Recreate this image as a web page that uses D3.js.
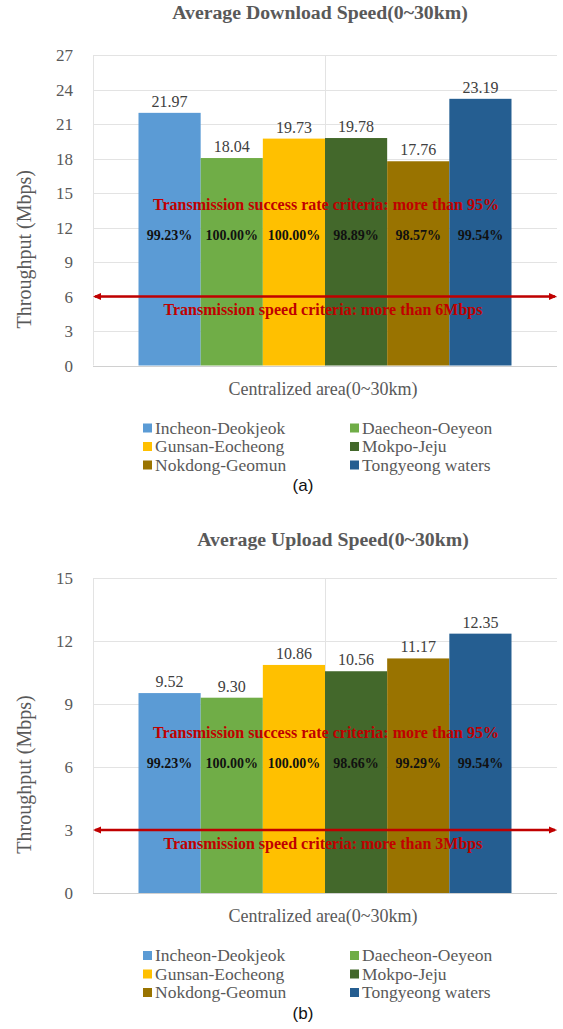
<!DOCTYPE html>
<html>
<head>
<meta charset="utf-8">
<script src="https://cdn.jsdelivr.net/npm/d3@7"></script>
<style>
  html, body { margin: 0; padding: 0; background: #fff; }
  svg { display: block; }
</style>
</head>
<body>
<svg id="fig" width="563" height="1029"></svg>
<script>
const SERIF = "'Liberation Serif', 'Times New Roman', Times, serif";
const SANS = "'Liberation Sans', Arial, Helvetica, sans-serif";

// Routes (series), shared by both panels
const routes = ["Incheon-Deokjeok", "Daecheon-Oeyeon", "Gunsan-Eocheong",
                "Mokpo-Jeju", "Nokdong-Geomun", "Tongyeong waters"];
const routeColors = ["#5B9BD5", "#70AD47", "#FFC000", "#43682B", "#997300", "#255E91"];
const category = "Centralized area(0~30km)";

// (a) download throughput, Mbps
const downloadValues = [21.97, 18.04, 19.73, 19.78, 17.76, 23.19];
const downloadSuccess = ["99.23%", "100.00%", "100.00%", "98.89%", "98.57%", "99.54%"];
const downloadTicks = [0, 3, 6, 9, 12, 15, 18, 21, 24, 27];
const downloadCriterion = 6;

// (b) upload throughput, Mbps
const uploadValues = [9.52, 9.30, 10.86, 10.56, 11.17, 12.35];
const uploadSuccess = ["99.23%", "100.00%", "100.00%", "98.66%", "99.29%", "99.54%"];
const uploadTicks = [0, 3, 6, 9, 12, 15];
const uploadCriterion = 3;

const svg = d3.select("#fig");

function drawPanel(opts) {
  const g = svg.append("g").attr("font-family", SERIF);
  const left = 93, right = 557;
  const top = opts.top, bottom = opts.bottom;

  const y = d3.scaleLinear()
    .domain([0, d3.max(opts.ticks)])
    .range([bottom, top]);

  const xCat = d3.scaleBand().domain([category]).range([left, right])
    .paddingInner(0).paddingOuter(0.122);
  const xSeries = d3.scaleBand().domain(routes)
    .range([xCat(category), xCat(category) + xCat.bandwidth()]).padding(0);

  // title
  g.append("text")
    .attr("x", opts.titleX).attr("y", top - opts.titleGap)
    .attr("text-anchor", "middle").attr("font-size", 19.8).attr("font-weight", "bold")
    .attr("fill", "#595959").text(opts.title);

  // horizontal gridlines
  g.append("g").selectAll("line").data(opts.ticks.filter(t => t > 0)).join("line")
    .attr("x1", left).attr("x2", right)
    .attr("y1", d => Math.round(y(d)) + 0.5).attr("y2", d => Math.round(y(d)) + 0.5)
    .attr("stroke", "#E3E3E3").attr("stroke-width", 1);

  // left border and category divider
  [left, xCat(category) + xCat.bandwidth() / 2].forEach(xv => {
    g.append("line").attr("x1", Math.round(xv) + 0.5).attr("x2", Math.round(xv) + 0.5)
      .attr("y1", top).attr("y2", bottom)
      .attr("stroke", "#E3E3E3").attr("stroke-width", 1);
  });

  // y axis tick labels
  const yAxis = d3.axisLeft(y).tickValues(opts.ticks).tickSize(0).tickPadding(0);
  const ax = g.append("g").attr("transform", `translate(${left - 20},0)`).call(yAxis)
    .attr("font-family", SERIF).attr("font-size", 17);
  ax.select(".domain").remove();
  ax.selectAll("text").attr("fill", "#595959").attr("dy", "0.34em");

  // bars
  g.append("g").selectAll("rect").data(opts.values).join("rect")
    .attr("x", (d, i) => xSeries(routes[i]))
    .attr("width", xSeries.bandwidth())
    .attr("y", d => y(d))
    .attr("height", d => y(0) - y(d))
    .attr("fill", (d, i) => routeColors[i]);

  // baseline axis
  g.append("line").attr("x1", left).attr("x2", right)
    .attr("y1", Math.round(y(0)) + 0.5).attr("y2", Math.round(y(0)) + 0.5)
    .attr("stroke", "#D0D0D0").attr("stroke-width", 1);

  // value labels
  g.append("g").selectAll("text").data(opts.values).join("text")
    .attr("x", (d, i) => xSeries(routes[i]) + xSeries.bandwidth() / 2)
    .attr("y", d => y(d) - 6)
    .attr("text-anchor", "middle").attr("font-size", 16).attr("fill", "#404040")
    .text(d => d.toFixed(2));

  const mid = xCat(category) + xCat.bandwidth() / 2;

  // success-rate annotation
  g.append("text")
    .attr("x", mid + 1).attr("y", opts.rateY)
    .attr("text-anchor", "middle").attr("font-size", 16).attr("font-weight", "bold")
    .attr("fill", "#C00000").text("Transmission success rate criteria: more than 95%");

  g.append("g").selectAll("text").data(opts.success).join("text")
    .attr("x", (d, i) => xSeries(routes[i]) + xSeries.bandwidth() / 2)
    .attr("y", opts.pctY)
    .attr("text-anchor", "middle").attr("font-size", 14).attr("font-weight", "bold")
    .attr("fill", "#111").text(d => d);

  // speed criterion double arrow
  const cy = y(opts.criterion);
  const ah = 8, aw = 3.5;
  g.append("line").attr("x1", left + 2).attr("x2", right - 2)
    .attr("y1", cy).attr("y2", cy)
    .attr("stroke", "#C00000").attr("stroke-width", 2.5);
  g.append("path")
    .attr("d", `M${left},${cy} L${left + ah},${cy - aw} L${left + ah},${cy + aw} Z`)
    .attr("fill", "#C00000");
  g.append("path")
    .attr("d", `M${right},${cy} L${right - ah},${cy - aw} L${right - ah},${cy + aw} Z`)
    .attr("fill", "#C00000");

  g.append("text")
    .attr("x", mid - 2).attr("y", cy + 18.5)
    .attr("text-anchor", "middle").attr("font-size", 16).attr("font-weight", "bold")
    .attr("fill", "#C00000")
    .text(`Transmission speed criteria: more than ${opts.criterion}Mbps`);

  // axis titles
  g.append("text")
    .attr("transform", `translate(31,${(top + bottom) / 2 + 39}) rotate(-90)`)
    .attr("text-anchor", "middle").attr("font-size", 20).attr("fill", "#595959")
    .text("Throughput (Mbps)");

  g.append("text")
    .attr("x", mid - 2).attr("y", bottom + 29)
    .attr("text-anchor", "middle").attr("font-size", 18).attr("fill", "#595959")
    .text(category);

  // legend: two columns, three rows
  const lg = g.append("g");
  const colX = [143, 350], rowY0 = bottom + 68, rowH = 18.5;
  routes.forEach((r, i) => {
    const cx = colX[i % 2], ry = rowY0 + Math.floor(i / 2) * rowH;
    lg.append("rect").attr("x", cx).attr("y", ry - 10).attr("width", 9).attr("height", 9)
      .attr("fill", routeColors[i]);
    lg.append("text")
      .attr("x", cx + 12).attr("y", ry)
      .attr("font-size", 17.5).attr("fill", "#595959").text(r);
  });

  // panel label
  g.append("text").attr("font-family", SANS)
    .attr("x", 303).attr("y", bottom + 125.5)
    .attr("text-anchor", "middle").attr("font-size", 17).attr("fill", "#111")
    .text(opts.panel);
}

drawPanel({
  title: "Average Download Speed(0~30km)", titleX: 320, titleGap: 36,
  top: 55, bottom: 365.5, ticks: downloadTicks, values: downloadValues,
  success: downloadSuccess, criterion: downloadCriterion,
  rateY: 210, pctY: 240, panel: "(a)"
});

drawPanel({
  title: "Average Upload Speed(0~30km)", titleX: 333, titleGap: 32,
  top: 578, bottom: 893, ticks: uploadTicks, values: uploadValues,
  success: uploadSuccess, criterion: uploadCriterion,
  rateY: 738, pctY: 768, panel: "(b)"
});
</script>
</body>
</html>
